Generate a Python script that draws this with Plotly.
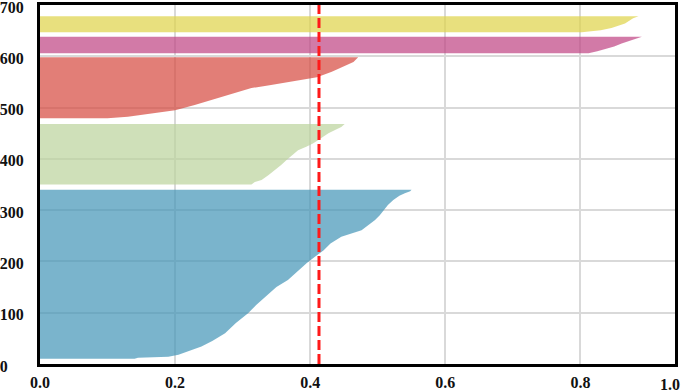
import plotly.graph_objects as go

# Silhouette profile per cluster: sample index (y) and silhouette coefficient (x)
blue_y = [10, 12, 14, 18, 25, 34, 45, 60, 80, 99, 115, 131, 150, 164, 180, 197, 209, 222, 235, 248, 261, 272, 281, 290, 298, 310, 320, 328, 333, 337, 340]
blue_s = [0.14, 0.145, 0.19, 0.205, 0.22, 0.239, 0.255, 0.274, 0.29, 0.308, 0.32, 0.333, 0.35, 0.367, 0.38, 0.395, 0.407, 0.42, 0.43, 0.446, 0.476, 0.487, 0.496, 0.503, 0.508, 0.515, 0.523, 0.532, 0.54, 0.548, 0.55]

green_y = [350, 355, 359, 368, 378, 388, 398, 408, 417, 424, 430, 437, 444, 450, 456, 462, 468]
green_s = [0.313, 0.318, 0.328, 0.338, 0.348, 0.357, 0.365, 0.374, 0.382, 0.395, 0.404, 0.412, 0.42, 0.427, 0.436, 0.446, 0.451]

red_y = [479, 482, 489, 495, 505, 515, 528, 538, 544, 550, 559, 570, 580, 589, 598]
red_s = [0.10, 0.13, 0.17, 0.20, 0.229, 0.254, 0.288, 0.313, 0.342, 0.372, 0.41, 0.432, 0.449, 0.464, 0.471]

pink_y = [606, 610, 614, 619, 625, 631, 635, 638]
pink_s = [0.812, 0.825, 0.837, 0.85, 0.861, 0.875, 0.885, 0.891]

yellow_y = [647, 651, 655, 664, 674, 678]
yellow_s = [0.802, 0.83, 0.846, 0.866, 0.878, 0.886]

avg_silhouette = 0.413

x_tickvals = [0.0, 0.2, 0.4, 0.6, 0.8]
x_ticktext = ["0.0", "0.2", "0.4", "0.6", "0.8"]
y_tickvals = [0, 100, 200, 300, 400, 500, 600, 700]
y_ticktext = ["0\u2007\u2007", "100", "200", "300", "400", "500", "600", "700"]

clusters = [
    (blue_y, blue_s, "rgba(65,148,182,0.7)"),
    (green_y, green_s, "rgba(186,211,155,0.7)"),
    (red_y, red_s, "rgba(214,71,61,0.7)"),
    (pink_y, pink_s, "rgba(191,66,130,0.7)"),
    (yellow_y, yellow_s, "rgba(222,211,71,0.7)"),
]

fig = go.Figure()
for ys, ss, col in clusters:
    fig.add_trace(go.Scatter(
        x=[0] + ss + [0], y=[ys[0]] + ys + [ys[-1]],
        mode="lines", fill="toself", fillcolor=col,
        line=dict(width=0, color=col), hoverinfo="skip", showlegend=False,
    ))

fig.add_shape(type="line", x0=avg_silhouette, x1=avg_silhouette, y0=0, y1=1,
              xref="x", yref="paper",
              line=dict(color="#ff1a1a", width=3, dash="10px,4px"))

tickfont = dict(family="Liberation Serif", size=16, color="#111111", weight="bold")

fig.add_annotation(x=0.932, y=0, xref="x", yref="paper", yanchor="top",
                   yshift=-10, text="1.0", showarrow=False, font=tickfont)

fig.update_xaxes(range=[0, 0.94], tickvals=x_tickvals, ticktext=x_ticktext,
                 showgrid=True, gridcolor="#d9d9d9", gridwidth=2,
                 showline=True, linecolor="black", linewidth=3, mirror=True,
                 ticks="outside", ticklen=0, ticklabelstandoff=2,
                 ticklabeloverflow="allow",
                 tickfont=tickfont, zeroline=False, automargin=False)
fig.update_yaxes(range=[0, 700], tickvals=y_tickvals, ticktext=y_ticktext,
                 showgrid=True, gridcolor="#d9d9d9", gridwidth=2,
                 showline=True, linecolor="black", linewidth=3, mirror=True,
                 ticks="outside", ticklen=0, ticklabelstandoff=10,
                 ticklabelshift=2, ticklabeloverflow="allow",
                 tickfont=tickfont, zeroline=False, automargin=False)

fig.update_layout(width=685, height=391, margin=dict(l=40, r=10, t=5, b=27),
                  plot_bgcolor="white", paper_bgcolor="white")

fig.write_html("out.html", config={"displayModeBar": False},
               post_script="document.body.style.margin='0';document.body.style.overflow='hidden';")
